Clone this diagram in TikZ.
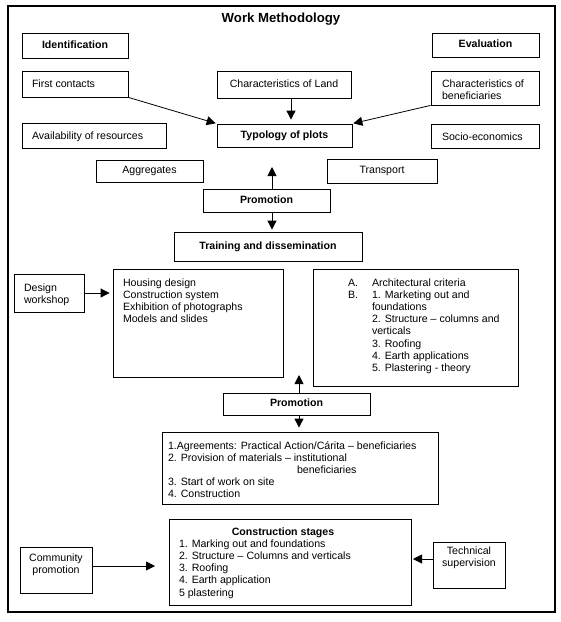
\documentclass[tikz,border=0pt]{standalone}
\usepackage{fontspec}
\setmainfont{Liberation Sans}
\usetikzlibrary{arrows.meta}
\newcommand{\fs}{\fontsize{10.6}{12.2}\selectfont}
% left-aligned, top-aligned box content: width, height, left pad, top pad, text
\newcommand{\tlbox}[5]{\parbox[c][#2][t]{#1}{\raggedright\leftskip=#3\relax\vspace*{#4}\strut #5}}
% centred, top-aligned box content: width, height, top pad, text
\newcommand{\tcbox}[4]{\parbox[c][#2][t]{#1}{\centering\vspace*{#3}\strut #4}}
\tikzset{
  box/.style={draw, line width=0.8pt, inner sep=0pt, font=\fs, align=center},
  one/.style={text height=7.7pt, text depth=2.3pt},
  arr/.style={-{Triangle[length=9pt,width=9pt]}, line width=0.8pt},
}
\begin{document}
\begin{tikzpicture}[x=1pt,y=-1pt]
\useasboundingbox (0,0) rectangle (561,622);
\draw[line width=1.2pt] (8,6) rectangle (555,612);
\node[font=\fontsize{13.2}{15}\selectfont\bfseries, inner sep=0pt, one] (title) at (281,20) {Work Methodology};

\node[box, one, minimum width=106pt, minimum height=25pt, font=\fs\bfseries] (ident) at (75,45.5) {Identification};
\node[box, one, minimum width=107pt, minimum height=24pt, font=\fs\bfseries] (eval) at (485.5,45) {Evaluation};

\node[box, minimum width=106pt, minimum height=26pt] (first) at (75,84) {\tlbox{106pt}{26pt}{10pt}{8pt}{First contacts}};
\node[box, one, minimum width=134pt, minimum height=27pt] (land) at (284,84.5) {Characteristics of Land};
\node[box, minimum width=108pt, minimum height=34pt] (benef) at (485,88) {\tlbox{108pt}{34pt}{11pt}{7.5pt}{Characteristics of\\beneficiaries}};

\node[box, minimum width=144pt, minimum height=25pt] (avail) at (94,135.5) {\tlbox{144pt}{25pt}{10pt}{7.5pt}{Availability of resources}};
\node[box, one, minimum width=135pt, minimum height=23pt, font=\fs\bfseries] (typo) at (284.5,135.5) {Typology of plots};
\node[box, minimum width=108pt, minimum height=24pt] (socio) at (485,136) {\tlbox{108pt}{24pt}{11pt}{7.5pt}{Socio-economics}};

\node[box, one, minimum width=107pt, minimum height=22pt] (aggr) at (149.5,171) {Aggregates};
\node[box, one, minimum width=110pt, minimum height=24pt] (transp) at (382,171) {Transport};
\node[box, one, minimum width=127pt, minimum height=23pt, font=\fs\bfseries] (prom1) at (266.5,200.5) {Promotion};
\node[box, one, minimum width=188pt, minimum height=29pt, font=\fs\bfseries] (train) at (268,246.5) {Training and dissemination};

\node[box, minimum width=70pt, minimum height=38pt] (design) at (49,293) {\tlbox{70pt}{38pt}{10pt}{8.5pt}{Design\\workshop}};
\node[box, minimum width=170pt, minimum height=108pt] (housing) at (198,323) {\tlbox{170pt}{108pt}{10pt}{8.5pt}{Housing design\\Construction system\\Exhibition of photographs\\Models and slides}};
\node[box, minimum width=205pt, minimum height=117pt] (arch) at (415.5,327.5) {\tlbox{205pt}{117pt}{35pt}{8.5pt}{\makebox[24pt][l]{A.}Architectural criteria\\\makebox[24pt][l]{B.}1. Marketing out and\\\hspace*{24pt}foundations\\\hspace*{24pt}2. Structure -- columns and\\\hspace*{24pt}verticals\\\hspace*{24pt}3. Roofing\\\hspace*{24pt}4. Earth applications\\\hspace*{24pt}5. Plastering - theory}};

\node[box, one, minimum width=147pt, minimum height=22pt, font=\fs\bfseries] (prom2) at (296.5,404) {Promotion};
\node[box, minimum width=276pt, minimum height=72pt] (agree) at (300,468) {\tlbox{276pt}{72pt}{6pt}{8.5pt}{1.Agreements: Practical Action/Cárita -- beneficiaries\\2. Provision of materials -- institutional\\\hspace*{129pt}beneficiaries\\3. Start of work on site\\4. Construction}};

\node[box, minimum width=242pt, minimum height=86pt] (constr) at (290,562) {\tlbox{242pt}{86pt}{10pt}{7.5pt}{\makebox[208pt][c]{\bfseries Construction stages}\\1. Marking out and foundations\\2. Structure -- Columns and verticals\\3. Roofing\\4. Earth application\\5 plastering}};
\node[box, minimum width=72pt, minimum height=46pt] (comm) at (56,570) {\tcbox{72pt}{46pt}{5.5pt}{Community\\promotion}};
\node[box, minimum width=72pt, minimum height=46pt] (tech) at (469,565) {\tcbox{72pt}{46pt}{3.5pt}{Technical\\supervision}};

\coordinate (p1up) at (272,167);
\coordinate (p2up) at (299,375);
\coordinate (cpa) at (155,566);
\coordinate (tsa) at (413,559);

\draw[arr, shorten >=1pt] (first.south east) -- (typo.north west);
\draw[arr, shorten >=1pt] (benef.south west) -- (typo.north east);
\draw[arr, shorten >=4pt] ([xshift=7pt]land.south) -- ([xshift=6.5pt]typo.north);
\draw[arr] ([xshift=5.5pt]prom1.north) -- (p1up);
\draw[arr, shorten >=2pt] ([xshift=5.5pt]prom1.south) -- ([xshift=4pt]train.north);
\draw[arr, shorten >=3pt] (design.east) -- (design.east -| housing.west);
\draw[arr] ([xshift=2.5pt]prom2.north) -- (p2up);
\draw[arr, shorten >=4pt] ([xshift=2.5pt]prom2.south) -- ([xshift=-1pt]agree.north);
\draw[arr] ([yshift=4pt]comm.east) -- (cpa);
\draw[arr] ([yshift=6pt]tech.west) -- (tsa);
\end{tikzpicture}
\end{document}
